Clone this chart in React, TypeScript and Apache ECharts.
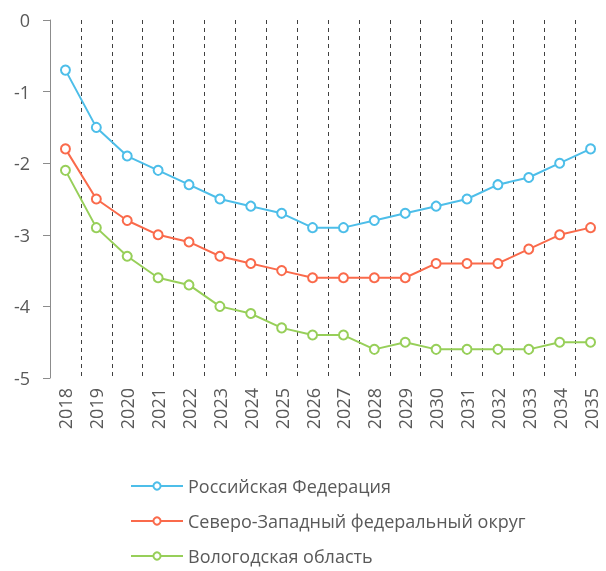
import React, { useEffect, useRef } from "react";
import * as echarts from "echarts";

const years = ["2018","2019","2020","2021","2022","2023","2024","2025","2026","2027","2028","2029","2030","2031","2032","2033","2034","2035"];
const russia = [-0.7,-1.5,-1.9,-2.1,-2.3,-2.5,-2.6,-2.7,-2.9,-2.9,-2.8,-2.7,-2.6,-2.5,-2.3,-2.2,-2.0,-1.8];
const nwfd = [-1.8,-2.5,-2.8,-3.0,-3.1,-3.3,-3.4,-3.5,-3.6,-3.6,-3.6,-3.6,-3.4,-3.4,-3.4,-3.2,-3.0,-2.9];
const vologda = [-2.1,-2.9,-3.3,-3.6,-3.7,-4.0,-4.1,-4.3,-4.4,-4.4,-4.6,-4.5,-4.6,-4.6,-4.6,-4.6,-4.5,-4.5];
const seriesNames = ["Российская Федерация","Северо-Западный федеральный округ","Вологодская область"];
const colors = ["#4DBEE9","#FA6A4B","#97CF59"];

const FONT = "'Open Sans', sans-serif";

export default function App() {
  const ref = useRef<HTMLDivElement>(null);
  useEffect(() => {
    const chart = echarts.init(ref.current!, null, { renderer: "svg" });
    const mk = (name: string, data: number[], color: string) => ({
      name,
      type: "line",
      data,
      symbol: "circle",
      symbolSize: 9,
      itemStyle: { color: "#ffffff", borderColor: color, borderWidth: 2 },
      lineStyle: { color, width: 2 },
      color,
    });
    chart.setOption({
      animation: false,
      grid: { left: 50, top: 20, width: 560, height: 358 },
      xAxis: {
        type: "category",
        data: years,
        boundaryGap: true,
        axisLine: { show: false },
        axisTick: { show: false },
        axisLabel: { rotate: 90, margin: 10, fontSize: 18, color: "#595959", fontFamily: FONT },
        splitLine: { show: true, showMinLine: false, showMaxLine: false, lineStyle: { color: "#404040", type: [4, 4], width: 1 } },
      },
      yAxis: {
        type: "value",
        min: -5,
        max: 0,
        interval: 1,
        axisLine: { show: true, lineStyle: { color: "#8c8c8c", width: 1 } },
        axisTick: { show: true, length: 7, lineStyle: { color: "#8c8c8c" } },
        axisLabel: { margin: 20, fontSize: 18, color: "#595959", fontFamily: FONT },
        splitLine: { show: false },
      },
      legend: {
        orient: "vertical",
        left: 130,
        top: 476,
        height: 150,
        padding: 0,
        itemWidth: 52,
        itemHeight: 9,
        itemGap: 15,
        textStyle: { fontSize: 18, color: "#595959", fontFamily: FONT, lineHeight: 20 },
        data: seriesNames,
      },
      series: [mk(seriesNames[0], russia, colors[0]), mk(seriesNames[1], nwfd, colors[1]), mk(seriesNames[2], vologda, colors[2])],
    });
    return () => chart.dispose();
  }, []);
  return <div ref={ref} style={{ position: "fixed", left: 0, top: 0, width: 606, height: 571 }} />;
}
